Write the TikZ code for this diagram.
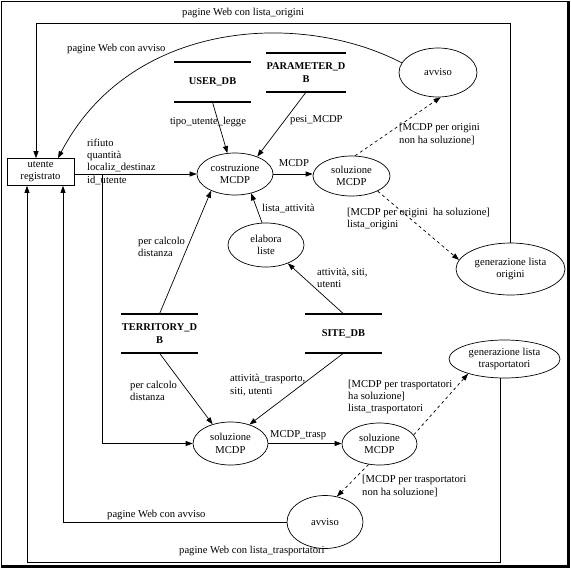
\documentclass[tikz,border=0pt]{standalone}
\usepackage{fontspec}
\setmainfont{Liberation Serif}
\usetikzlibrary{shapes.geometric,arrows.meta,calc}
\begin{document}
\begin{tikzpicture}[x=1pt,y=-1pt,
  every node/.style={font=\fontsize{10.6}{12.3}\selectfont, inner sep=0pt},
  proc/.style={draw, ellipse, line width=0.7pt, align=center},
  store/.style={minimum width=77pt, minimum height=39pt, align=center, font=\fontsize{10.4}{13}\selectfont\bfseries},
  storeline/.style={line width=2pt},
  flow/.style={line width=0.7pt, -{Triangle[length=7pt,width=5pt]}},
  cond/.style={flow, dash pattern=on 3pt off 3pt},
  lbl/.style={anchor=west, align=left},
]
\useasboundingbox (0,0) rectangle (571,568);
% frame
\draw[line width=0.8pt] (1,566) -- (1,1) -- (568,1);
\draw[line width=3pt] (0.5,566.5) -- (568.5,566.5) -- (568.5,0.5);

% nodes
\node[draw, line width=0.7pt, minimum width=67pt, minimum height=27pt, align=center] (ut) at (40.5,172) {utente\\registrato};
\node[store, minimum height=40pt] (userdb) at (212.5,82) {USER\_DB};
\node[store] (paramdb) at (306,72.5) {PARAMETER\_D\\B};
\node[proc, minimum width=76pt, minimum height=42pt] (cost) at (235,174) {costruzione\\MCDP};
\node[proc, minimum width=77pt, minimum height=40pt] (sol1) at (351.5,176) {soluzione\\MCDP};
\node[proc, minimum width=78pt, minimum height=49pt] (avv1) at (438,72.5) {avviso};
\node[proc, minimum width=76pt, minimum height=44pt] (elab) at (266,245) {elabora\\liste};
\node[proc, minimum width=109pt, minimum height=52pt] (genor) at (510.5,269) {generazione lista\\origini};
\node[store] (terr) at (159.5,333.5) {TERRITORY\_D\\B};
\node[store] (site) at (343.5,333.5) {SITE\_DB};
\node[proc, minimum width=111pt, minimum height=38pt] (gentr) at (504.5,359) {generazione lista\\trasportatori};
\node[proc, minimum width=75pt, minimum height=43pt] (sol2) at (230.5,443.5) {soluzione\\MCDP};
\node[proc, minimum width=75pt, minimum height=42pt] (sol3) at (379.5,444) {soluzione\\MCDP};
\node[proc, minimum width=76pt, minimum height=53pt] (avv2) at (325,522) {avviso};

\foreach \s in {userdb,paramdb,terr,site} {
  \draw[storeline] (\s.north west) -- (\s.north east);
  \draw[storeline] (\s.south west) -- (\s.south east);
}

% connectors
\coordinate (ctop) at (36,23);
\draw[flow] (genor.north) |- (ctop) -- (ctop |- ut.north);
\draw[flow] (avv1.165) .. controls (300,10) and (130,20) .. ($(ut.north)+(17.5,0)$);
\draw[flow] (ut.east |- cost.west) -- (cost.west);
\coordinate (br) at (102,174);
\draw[flow] (br) |- (sol2.west);
\draw[flow] (userdb.south) -- (cost.110);
\draw[flow] (paramdb.south) -- (cost.38);
\draw[flow] (cost.east) -- (cost.east -| sol1.west);
\draw[cond] (sol1.80) -- (avv1.-84);
\draw[cond] (sol1.-30) -- (genor.170);
\draw[flow] (elab.100) -- (cost.-50);
\draw[flow] (terr.north) -- (cost.-145);
\draw[flow] (site.north) -- (elab.-40);
\draw[flow] (terr.south) -- (sol2.133);
\draw[flow] (site.south) -- (sol2.45);
\draw[flow] (sol2.east) -- (sol2.east -| sol3.west);
\draw[cond] (sol3.15) -- (gentr.-158);
\draw[cond] (sol3.-118) -- (avv2.65);
\coordinate (x63) at (63,0);
\draw[flow] (avv2.west) -| (x63 |- ut.south);
\coordinate (x500) at (500,0);
\coordinate (cbot) at (27,562);
\draw[flow] (x500 |- gentr.south) |- (cbot) -- (cbot |- ut.south);

% labels
\node[lbl] (l1) at (182,13) {pagine Web con lista\_origini};
\node[lbl] (l2) at (67,49) {pagine Web con avviso};
\node[lbl] (l3) at (87,161.5) {rifiuto\\quantità\\localiz\_destinaz\\id\_utente};
\node (l4) at (208,122) {tipo\_utente\_legge};
\node[lbl] (l5) at (290,120) {pesi\_MCDP};
\node (l6) at (294,163) {MCDP};
\node[lbl] (l7) at (399,134) {[MCDP per origini\\non ha soluzione]};
\node[lbl] (l8) at (347,219) {[MCDP per origini\ \ ha soluzione]\\lista\_origini};
\node[lbl] (l9) at (262,208) {lista\_attività};
\node[lbl] (l10) at (138,247) {per calcolo\\distanza};
\node[lbl] (l11) at (317,278) {attività, siti,\\utenti};
\node[lbl] (l12) at (130,391) {per calcolo\\distanza};
\node[lbl] (l13) at (230,385) {attività\_trasporto,\\siti, utenti};
\node[lbl] (l14) at (270,435) {MCDP\_trasp};
\node[lbl] (l15) at (348,397) {[MCDP per trasportatori\\ha soluzione]\\lista\_trasportatori};
\node[lbl] (l16) at (362,486) {[MCDP per trasportatori\\non ha soluzione]};
\node[lbl] (l17) at (107,515) {pagine Web con avviso};
\node[lbl] (l18) at (179,551) {pagine Web con lista\_trasportatori};
\end{tikzpicture}
\end{document}
